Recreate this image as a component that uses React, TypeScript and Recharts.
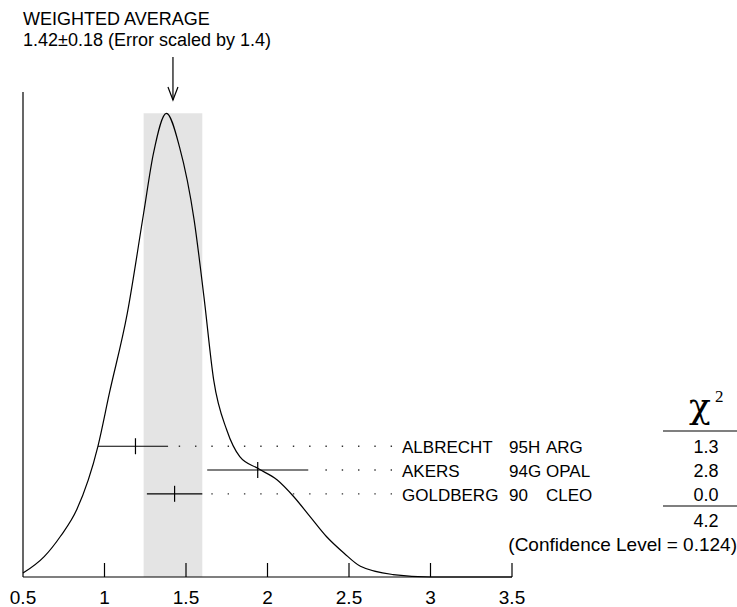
import React from 'react';
import {
  ComposedChart,
  Line,
  Scatter,
  ErrorBar,
  XAxis,
  YAxis,
  ReferenceArea,
  ReferenceLine,
  ReferenceDot,
  Customized,
} from 'recharts';

// ideogram curve (arbitrary height units, 100 = top of the left axis)
const curveX = [0.5, 0.63, 0.73, 0.83, 0.96, 1.03, 1.14, 1.24, 1.3, 1.38, 1.46, 1.55, 1.61, 1.67, 1.75, 1.83, 1.94, 2.06, 2.16, 2.26, 2.36, 2.47, 2.57, 2.77, 3.0, 3.5];
const curveY = [0.8, 4.2, 8.4, 13.9, 27.0, 37.9, 54.4, 75.0, 87.3, 95.6, 88.7, 73.6, 57.8, 40.6, 30.3, 24.8, 22.4, 20.0, 16.6, 12.5, 8.4, 4.9, 2.2, 0.5, 0, 0];

// measurements
const names = ['ALBRECHT', 'AKERS', 'GOLDBERG'];
const years = ['95H', '94G', '90'];
const experiments = ['ARG', 'OPAL', 'CLEO'];
const values = [1.19, 1.94, 1.43];
const errLow = [0.23, 0.31, 0.17];
const errHigh = [0.2, 0.31, 0.17];
const chi2 = ['1.3', '2.8', '0.0'];
const chi2Sum = '4.2';
const confLevel = '0.124';

// weighted average
const average = 1.42;
const averageErr = 0.18;
const errScale = 1.4;

const xTicks = [0.5, 1, 1.5, 2, 2.5, 3, 3.5];

const W = 737;
const H = 607;
const FONT = '"Liberation Sans", Arial, Helvetica, sans-serif';
const FS = 18;
const ROW_FS = 17;
const LEADER_END = 2.764; // where the dotted leaders stop, just before the names

const curve = curveX.map((x, i) => ({ x, y: curveY[i] }));
const rows = names.map((name, i) => ({
  x: values[i],
  row: i,
  err: [errLow[i], errHigh[i]],
  name,
  year: years[i],
  exp: experiments[i],
  chi2: chi2[i],
}));
const peak = Math.max(...curveY);

const AxisTick = (props: any) => {
  const { x, y, payload } = props;
  return (
    <g>
      {payload.value > xTicks[0] && (
        <line x1={x} x2={x} y1={y - 14} y2={y} stroke="#000" strokeWidth={1.2} />
      )}
      <text x={x} y={y + 27} textAnchor="middle" fontSize={19} fill="#000">
        {payload.value}
      </text>
    </g>
  );
};

const RowMark = (props: any) => {
  const { cx, cy, payload } = props;
  const ty = cy + 7;
  return (
    <g fill="#000">
      <line x1={cx} x2={cx} y1={cy - 8} y2={cy + 8} stroke="#000" strokeWidth={1.2} />
      <text x={402} y={ty} fontSize={ROW_FS}>{payload.name}</text>
      <text x={509} y={ty} fontSize={ROW_FS}>{payload.year}</text>
      <text x={546} y={ty} fontSize={ROW_FS}>{payload.exp}</text>
      <text x={706} y={ty} fontSize={FS} textAnchor="middle">{payload.chi2}</text>
    </g>
  );
};

const Arrow = (props: any) => {
  const { cx, cy } = props;
  return (
    <g stroke="#000" strokeWidth={1.2} fill="none">
      <line x1={cx} x2={cx} y1={cy - 35} y2={cy + 8} />
      <polyline points={`${cx - 5},${cy - 5} ${cx},${cy + 8} ${cx + 5},${cy - 5}`} />
    </g>
  );
};

const Annotations = () => (
  <g fill="#000" style={{ fontFamily: FONT }}>
    <text x={23} y={25} fontSize={FS}>
      WEIGHTED AVERAGE
    </text>
    <text x={23} y={46} fontSize={FS}>
      {`${average.toFixed(2)}\u00b1${averageErr.toFixed(2)} (Error scaled by ${errScale})`}
    </text>
    <text x={700} y={418} fontSize={36} textAnchor="middle" style={{ fontFamily: '"DejaVu Serif", serif' }}>
      {'\u03c7'}
    </text>
    <text x={715} y={402} fontSize={17} style={{ fontFamily: '"Liberation Serif", serif' }}>
      2
    </text>
    <line x1={663} x2={737} y1={431} y2={431} stroke="#000" strokeWidth={1.2} />
    <line x1={663} x2={737} y1={506} y2={506} stroke="#000" strokeWidth={1.2} />
    <text x={706} y={527} fontSize={FS} textAnchor="middle">{chi2Sum}</text>
    <text x={737} y={551} fontSize={19} textAnchor="end">
      {`(Confidence Level = ${confLevel})`}
    </text>
  </g>
);

export default function App() {
  return (
    <div style={{ position: 'absolute', left: 0, top: 0, background: '#fff' }}>
      <ComposedChart
        width={W}
        height={H}
        data={curve}
        margin={{ top: 92, right: 225, bottom: 0, left: 23 }}
        style={{ fontFamily: FONT }}
      >
        <XAxis
          type="number"
          dataKey="x"
          domain={[0.5, 3.5]}
          ticks={xTicks}
          interval={0}
          height={30}
          tickSize={0}
          tickMargin={0}
          tick={<AxisTick />}
          axisLine={{ stroke: '#000', strokeWidth: 1.2 }}
        />
        <YAxis type="number" domain={[0, 100]} hide />
        <YAxis yAxisId="rows" type="number" dataKey="row" domain={[-14.9, 5.5]} reversed hide />
        <ReferenceArea
          x1={average - averageErr}
          x2={average + averageErr}
          y1={0}
          y2={peak}
          fill="#e4e4e4"
          fillOpacity={1}
          stroke="none"
        />
        <ReferenceLine x={0.5} stroke="#000" strokeWidth={1.2} />
        {values.map((v, i) => (
          <ReferenceLine
            key={names[i]}
            yAxisId="rows"
            segment={[
              { x: LEADER_END, y: i },
              { x: v + errHigh[i] + 0.03, y: i },
            ]}
            stroke="#333"
            strokeWidth={1.3}
            strokeDasharray="1.4 14.9"
          />
        ))}
        <Line
          type="monotone"
          dataKey="y"
          stroke="#000"
          strokeWidth={1.2}
          dot={false}
          isAnimationActive={false}
        />
        <Scatter
          data={rows}
          yAxisId="rows"
          dataKey="row"
          shape={<RowMark />}
          isAnimationActive={false}
        >
          <ErrorBar dataKey="err" direction="x" width={0} stroke="#000" strokeWidth={1.2} />
        </Scatter>
        <ReferenceDot x={average} y={100} r={0} shape={<Arrow />} ifOverflow="visible" />
        <Customized component={Annotations} />
      </ComposedChart>
    </div>
  );
}
